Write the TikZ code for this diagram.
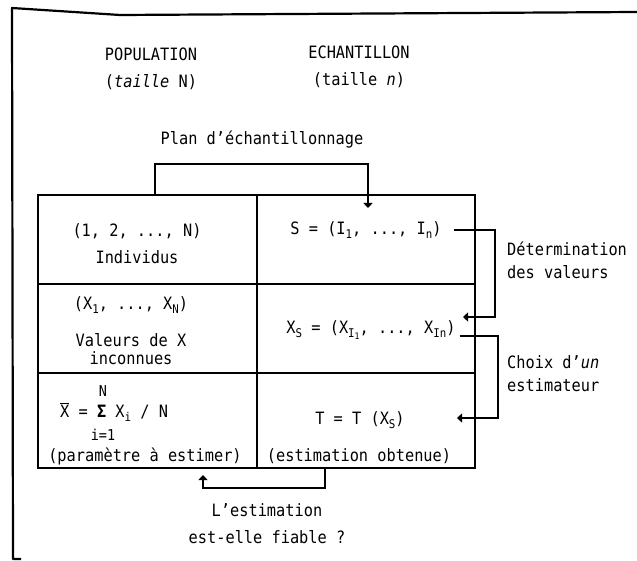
\documentclass[tikz,border=0pt]{standalone}
\usepackage{fontspec}
\setmainfont{DejaVu Sans Mono}[FakeStretch=0.9]
\usetikzlibrary{arrows.meta}
\newcommand\lo[1]{\raisebox{-0.45ex}{\fontsize{12}{12}\selectfont #1}}
\newcommand\llo[1]{\raisebox{-0.35ex}{\fontsize{9}{9}\selectfont #1}}
\begin{document}
\begin{tikzpicture}[x=1pt,y=-1pt,
  txt/.style={inner sep=0pt, align=center, font=\fontsize{17}{#1}\selectfont},
  txt/.default=20,
  cell/.style={draw, line width=1.4pt, anchor=north west, outer sep=0pt, inner sep=0pt},
  link/.style={line width=1.4pt, -{Triangle[length=5pt,width=9pt]}},
  frame/.style={line width=2.2pt, line join=round}
]
\useasboundingbox (0,0) rectangle (637,561);
\fill[white] (0,0) rectangle (637,561);

% outer frame
\draw[frame] (21,559) -- (13,559) -- (12,8) -- (120,15) -- (637,12);

% headers
\node[txt=27] (pop) at (151,68.5) {POPULATION\\(\textit{taille} N)};
\node[txt=27] (ech) at (359,66.5) {ECHANTILLON\\(taille \textit{n})};
\node[txt] (plan) at (262,140) {Plan d'échantillonnage};

% table cells
\node[cell, minimum width=219pt, minimum height=89pt] (c11) at (38,195) {};
\node[cell, minimum width=218pt, minimum height=89pt] (c12) at (257,195) {};
\node[cell, minimum width=219pt, minimum height=89pt] (c21) at (38,284) {};
\node[cell, minimum width=218pt, minimum height=89pt] (c22) at (257,284) {};
\node[cell, minimum width=219pt, minimum height=95pt] (c31) at (38,373) {};
\node[cell, minimum width=218pt, minimum height=95pt] (c32) at (257,373) {};

% row 1
\node[txt=27] (ind) at (137,243.5) {(1, 2, ..., N)\\Individus};
\node[txt] (s1) at (366,230) {S = (I\lo{1}, ..., I\lo{n})};

% row 2
\node[txt] (xn) at (131,305) {(X\lo{1}, ..., X\lo{N})};
\node[txt=18] (val) at (131,349) {Valeurs de X\\inconnues};
\node[txt] (x2) at (371,330) {X\lo{S} = (X\lo{I\llo{1}}, ..., X\lo{In})};

% row 3
\node[txt, font=\fontsize{15}{15}\selectfont] (sN) at (103,391) {N};
\node[txt, anchor=west] (xbar) at (60,412) {$\overline{\mbox{X}}$ = \textbf{Σ} X\lo{i} / N};
\node[txt, font=\fontsize{15}{15}\selectfont] (si) at (103,435) {i=1};
\node[txt] (par) at (145,456) {(paramètre à estimer)};
\node[txt] (tt) at (360,420) {T = T (X\lo{S})};
\node[txt] (est) at (359,456) {(estimation obtenue)};

% side labels
\node[txt=23, align=left, anchor=west] (det) at (507,260.5) {Détermination\\des valeurs};
\node[txt=23, align=left, anchor=west] (cho) at (507,373.5) {Choix d'\textit{un}\\estimateur};
\node[txt=27] (fia) at (267,523.5) {L'estimation\\est-elle fiable ?};

% arrow tips
\coordinate (tipA) at (368,208);
\coordinate (tipB) at (463,317);
\coordinate (tipC) at (457,418);
\coordinate (tipD) at (203,475);

% connectors
\draw[link] ([xshift=7.5pt]c11.north) -- (155,164) -| (tipA);
\draw[link, shorten <=12pt] (s1.east) -| (495,317) -- (tipB);
\draw[link] ([xshift=4pt,yshift=-6pt]x2.east) -| (498,418) -- (tipC);
\draw[link] ([xshift=-41pt]c32.south) -- (325,488) -| (tipD);
\end{tikzpicture}
\end{document}
